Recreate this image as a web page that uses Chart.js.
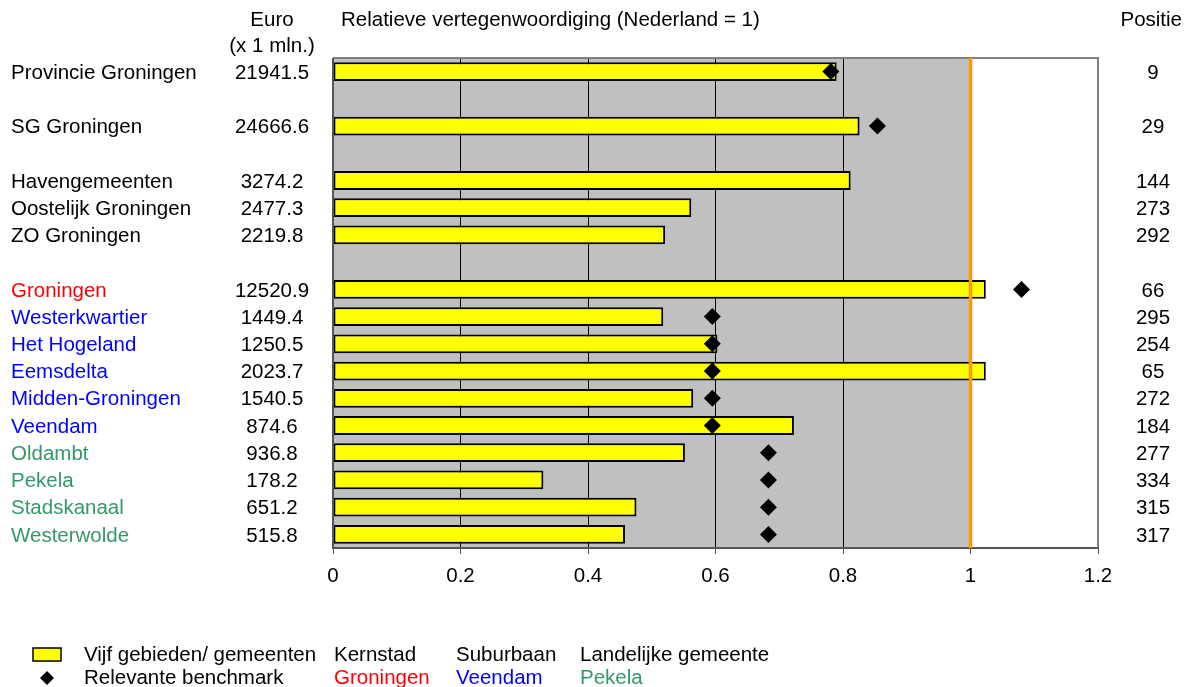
<!DOCTYPE html>
<html>
<head>
<meta charset="utf-8">
<script src="https://cdn.jsdelivr.net/npm/chart.js@4/dist/chart.umd.min.js"></script>
<style>
html,body{margin:0;padding:0;background:#fff;}
#wrap{width:1191px;height:687px;position:relative;}
</style>
</head>
<body>
<div id="wrap"><canvas id="c" width="1191" height="687"></canvas></div>
<script>
// ---- data ----
const categories = ['Provincie Groningen','', 'SG Groningen','', 'Havengemeenten','Oostelijk Groningen','ZO Groningen','',
  'Groningen','Westerkwartier','Het Hogeland','Eemsdelta','Midden-Groningen','Veendam','Oldambt','Pekela','Stadskanaal','Westerwolde'];
const categoryType = ['gebied','', 'gebied','', 'gebied','gebied','gebied','',
  'kernstad','suburbaan','suburbaan','suburbaan','suburbaan','suburbaan','landelijk','landelijk','landelijk','landelijk'];
const euroMln = ['21941.5','', '24666.6','', '3274.2','2477.3','2219.8','',
  '12520.9','1449.4','1250.5','2023.7','1540.5','874.6','936.8','178.2','651.2','515.8'];
const positie = ['9','', '29','', '144','273','292','',
  '66','295','254','65','272','184','277','334','315','317'];
const relatief = [0.790,null,0.826,null,0.812,0.562,0.521,null,
  1.024,0.518,0.603,1.024,0.565,0.723,0.552,0.330,0.476,0.458];
const benchmark = [0.781,null,0.854,null,null,null,null,null,
  1.080,0.595,0.595,0.595,0.595,0.595,0.683,0.683,0.683,0.683];
const xTickLabels = ['0','0.2','0.4','0.6','0.8','1','1.2'];
const nederland = 1;

// ---- style ----
const FONT = "'Liberation Sans', Arial, sans-serif";
const FS = 20.5;
const typeColor = {gebied:'#000000', kernstad:'#FF0000', suburbaan:'#0000FF', landelijk:'#339966'};

const overlay = {
  id:'overlay',
  beforeDraw(chart){
    const {ctx, chartArea:a, scales:{x}} = chart;
    ctx.save();
    ctx.fillStyle = '#C0C0C0';
    const x1 = x.getPixelForValue(nederland);
    ctx.fillRect(a.left, a.top, x1 - a.left, a.bottom - a.top);
    ctx.restore();
  },
  afterDatasetsDraw(chart){
    const {ctx, chartArea:a, scales:{x}} = chart;
    ctx.save();
    ctx.strokeStyle = '#808080';
    ctx.lineWidth = 2;
    ctx.beginPath();
    ctx.moveTo(a.left, a.top); ctx.lineTo(a.right, a.top); ctx.lineTo(a.right, a.bottom);
    ctx.stroke();
    ctx.strokeStyle = '#555555';
    ctx.beginPath();
    ctx.moveTo(a.left, a.top); ctx.lineTo(a.left, a.bottom); ctx.lineTo(a.right, a.bottom);
    ctx.stroke();
    const x1 = x.getPixelForValue(nederland);
    ctx.strokeStyle = '#FF9900';
    ctx.lineWidth = 3.5;
    ctx.beginPath();
    ctx.moveTo(x1, a.top); ctx.lineTo(x1, a.bottom);
    ctx.stroke();
    ctx.restore();
  },
  afterDraw(chart){
    const {ctx, scales:{y}} = chart;
    ctx.save();
    ctx.font = FS + 'px ' + FONT;
    ctx.textBaseline = 'middle';
    categories.forEach((c,i)=>{
      const py = y.getPixelForValue(i) + 1.5;
      ctx.fillStyle = typeColor[categoryType[i]] || '#000';
      ctx.textAlign = 'left';
      ctx.fillText(c, 11, py);
      ctx.fillStyle = '#000';
      ctx.textAlign = 'center';
      ctx.fillText(euroMln[i], 272, py);
      ctx.fillText(positie[i], 1153, py);
    });
    ctx.fillStyle = '#000';
    ctx.textAlign = 'center';
    ctx.fillText('Euro', 272, 20);
    ctx.fillText('(x 1 mln.)', 272, 46);
    ctx.textAlign = 'left';
    ctx.fillText('Relatieve vertegenwoordiging (Nederland = 1)', 341, 20);
    ctx.textAlign = 'right';
    ctx.fillText('Positie', 1182, 20);
    // legend
    const r1 = 655, r2 = 678;
    ctx.fillStyle = '#FFFF00';
    ctx.strokeStyle = '#000';
    ctx.lineWidth = 1.5;
    ctx.fillRect(33, 648, 28, 13);
    ctx.strokeRect(33, 648, 28, 13);
    ctx.fillStyle = '#000';
    ctx.beginPath();
    ctx.moveTo(47, r2-7); ctx.lineTo(54, r2); ctx.lineTo(47, r2+7); ctx.lineTo(40, r2); ctx.closePath();
    ctx.fill();
    ctx.textAlign = 'left';
    ctx.fillStyle = '#000';
    ctx.fillText('Vijf gebieden/ gemeenten', 84, r1);
    ctx.fillText('Relevante benchmark', 84, r2);
    ctx.fillText('Kernstad', 334, r1);
    ctx.fillText('Suburbaan', 456, r1);
    ctx.fillText('Landelijke gemeente', 580, r1);
    ctx.fillStyle = typeColor.kernstad; ctx.fillText('Groningen', 334, r2);
    ctx.fillStyle = typeColor.suburbaan; ctx.fillText('Veendam', 456, r2);
    ctx.fillStyle = typeColor.landelijk; ctx.fillText('Pekela', 580, r2);
    ctx.restore();
  }
};

new Chart(document.getElementById('c'), {
  type:'bar',
  data:{
    labels: categories.map((c,i)=> c || ('_' + i)),
    datasets:[
      {
        type:'line',
        label:'Relevante benchmark',
        data: benchmark,
        showLine:false,
        pointStyle:'rectRot',
        pointRadius:8.5,
        pointHoverRadius:8.5,
        pointBackgroundColor:'#000',
        pointBorderColor:'#000',
        pointBorderWidth:0,
        order:0
      },
      {
        type:'bar',
        label:'Vijf gebieden/ gemeenten',
        data: relatief,
        backgroundColor:'#FFFF00',
        borderColor:'#000',
        borderWidth:2,
        borderSkipped:false,
        barPercentage:0.69,
        categoryPercentage:1,
        order:1
      }
    ]
  },
  options:{
    indexAxis:'y',
    responsive:false,
    animation:false,
    layout:{padding:{left:333, right:93, top:58, bottom:94}},
    plugins:{legend:{display:false}, tooltip:{enabled:false}},
    scales:{
      y:{display:false},
      x:{
        min:0, max:1.2,
        afterFit(s){ s.height = 45; },
        border:{display:false},
        grid:{
          color:(c)=> (c.tick && c.tick.value > 0.1 && c.tick.value < 0.9) ? '#000' : 'rgba(0,0,0,0)',
          tickColor:'#555',
          tickLength:6,
          lineWidth:1
        },
        ticks:{
          stepSize:0.2,
          padding:10,
          color:'#000',
          font:{family:FONT, size:FS},
          maxRotation:0,
          callback:(v,i)=> xTickLabels[i]
        }
      }
    }
  },
  plugins:[overlay]
});
</script>
</body>
</html>
